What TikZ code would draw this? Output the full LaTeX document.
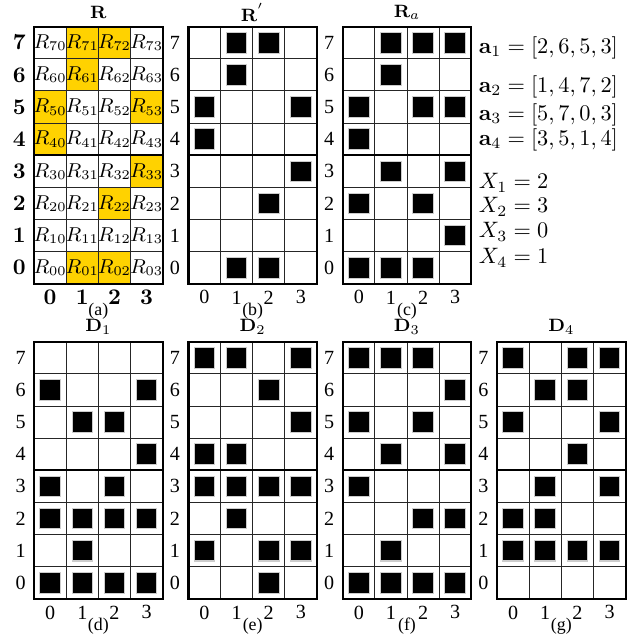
\documentclass[tikz,border=0pt]{standalone}
\usepackage[no-math]{fontspec}
\setmainfont{Liberation Serif}
\usepackage{amsmath}
\usetikzlibrary{positioning}

\definecolor{cellgold}{RGB}{255,210,0}

\begin{document}
\begin{tikzpicture}[
    x=14.4pt, y=14.4pt,
    font=\small,
    thin grid/.style={draw=black!85, line width=0.45pt, step=1},
    outer/.style={draw=black, line width=1pt},
    bit/.style={fill=black, draw=black!20, line width=0.45pt},
    hot/.style={fill=cellgold},
    rlab/.style={inner sep=1pt},
    title/.style={font=\footnotesize, inner sep=1pt},
    subcap/.style={font=\footnotesize, inner sep=1pt},
    eqn/.style={font=\normalsize, anchor=west, inner sep=1pt}
]
\useasboundingbox (-1.06,-10.95) rectangle (18.91,8.83);

% cut-off bracket at the top left corner
\node[font=\LARGE\bfseries, anchor=east] (brk) at (-0.93,8.55) {)};

% =========================================================
% (a) the matrix R, highlighted entries
% =========================================================
\foreach \r/\c in {7/1,7/2,6/1,5/0,5/3,4/0,3/3,2/2,0/1,0/2}
    \fill[hot] (\c,\r) rectangle +(1,1);

\foreach \r in {0,...,7}
    \foreach \c in {0,...,3}
        \node[inner sep=0pt] (R\r\c) at (\c+0.5,\r+0.5) {$R_{\r\c}$};

\foreach \i in {0,...,7}
    \node[rlab, font=\normalsize] (a-row\i) at (-0.46,\i+0.5) {$\mathbf{\i}$};
\foreach \i in {0,...,3}
    \node[rlab, font=\normalsize] (a-col\i) at (\i+0.5,-0.42) {$\mathbf{\i}$};

% =========================================================
% grid frames, thick middle line, captions
% =========================================================
\foreach \g/\gx/\gy in {a/0/0, b/4.8/0, c/9.6/0, d/0/-9.8, e/4.8/-9.8, f/9.6/-9.8, g/14.4/-9.8} {
    \begin{scope}[shift={(\gx,\gy)}]
        \draw[thin grid] (0,0) grid (4,8);
        \draw[outer] (0,0) rectangle (4,8) (0,4) -- (4,4);
        \node[subcap] (cap-\g) at (2,-0.84) {(\g)};
    \end{scope}
}

% row and column numbers of the 0/1 grids
\foreach \g/\gx/\gy in {b/4.8/0, c/9.6/0, d/0/-9.8, e/4.8/-9.8, f/9.6/-9.8, g/14.4/-9.8} {
    \begin{scope}[shift={(\gx,\gy)}]
        \foreach \i in {0,...,7}
            \node[rlab] (\g-row\i) at (-0.42,\i+0.5) {\i};
        \foreach \i in {0,...,3}
            \node[rlab] (\g-col\i) at (\i+0.5,-0.42) {\i};
    \end{scope}
}

% =========================================================
% filled cells (row/column)
% =========================================================
% (b) R'
\begin{scope}[shift={(4.8,0)}]
    \foreach \r/\c in {7/1,7/2,6/1,5/0,5/3,4/0,3/3,2/2,0/1,0/2}
        \draw[bit] (\c+0.18,\r+0.18) rectangle +(0.64,0.64);
\end{scope}

% (c) R_a
\begin{scope}[shift={(9.6,0)}]
    \foreach \r/\c in {7/1,7/2,7/3,6/1,5/0,5/2,5/3,4/0,3/1,3/3,2/0,2/2,1/3,0/0,0/1,0/2}
        \draw[bit] (\c+0.18,\r+0.18) rectangle +(0.64,0.64);
\end{scope}

% (d) D_1
\begin{scope}[shift={(0,-9.8)}]
    \foreach \r/\c in {6/0,6/3,5/1,5/2,4/3,3/0,3/2,2/0,2/1,2/2,2/3,1/1,0/0,0/1,0/2,0/3}
        \draw[bit] (\c+0.18,\r+0.18) rectangle +(0.64,0.64);
\end{scope}

% (e) D_2
\begin{scope}[shift={(4.8,-9.8)}]
    \foreach \r/\c in {7/0,7/1,7/3,6/2,5/3,4/0,4/1,3/0,3/1,3/2,3/3,2/1,1/0,1/2,1/3,0/2}
        \draw[bit] (\c+0.18,\r+0.18) rectangle +(0.64,0.64);
\end{scope}

% (f) D_3
\begin{scope}[shift={(9.6,-9.8)}]
    \foreach \r/\c in {7/0,7/1,7/2,6/3,5/0,5/2,4/1,4/3,3/0,2/2,2/3,1/1,0/0,0/1,0/2,0/3}
        \draw[bit] (\c+0.18,\r+0.18) rectangle +(0.64,0.64);
\end{scope}

% (g) D_4
\begin{scope}[shift={(14.4,-9.8)}]
    \foreach \r/\c in {7/0,7/2,7/3,6/1,6/2,5/0,5/3,4/2,3/1,3/3,2/0,2/1,1/0,1/1,1/2,1/3}
        \draw[bit] (\c+0.18,\r+0.18) rectangle +(0.64,0.64);
\end{scope}

% =========================================================
% titles
% =========================================================
\node[title] (tR)  at (2,8.44)     {$\mathbf{R}$};
\node[title] (tRp) at (6.8,8.44)   {$\mathbf{R}^{'}$};
\node[title] (tRa) at (11.6,8.44)  {$\mathbf{R}_a$};
\node[title] (tD1) at (2,-1.34)    {$\mathbf{D}_1$};
\node[title] (tD2) at (6.8,-1.34)  {$\mathbf{D}_2$};
\node[title] (tD3) at (11.6,-1.34) {$\mathbf{D}_3$};
\node[title] (tD4) at (16.4,-1.34) {$\mathbf{D}_4$};

% vectors and values
\node[eqn] (a1) at (13.75,7.34) {$\mathbf{a}_1=[2,6,5,3]$};
\node[eqn] (a2) at (13.75,6.13) {$\mathbf{a}_2=[1,4,7,2]$};
\node[eqn] (a3) at (13.75,5.26) {$\mathbf{a}_3=[5,7,0,3]$};
\node[eqn] (a4) at (13.75,4.48) {$\mathbf{a}_4=[3,5,1,4]$};

\node[eqn] (X1) at (13.75,3.14) {$X_1=2$};
\node[eqn] (X2) at (13.75,2.40) {$X_2=3$};
\node[eqn] (X3) at (13.75,1.62) {$X_3=0$};
\node[eqn] (X4) at (13.75,0.81) {$X_4=1$};

\end{tikzpicture}
\end{document}
